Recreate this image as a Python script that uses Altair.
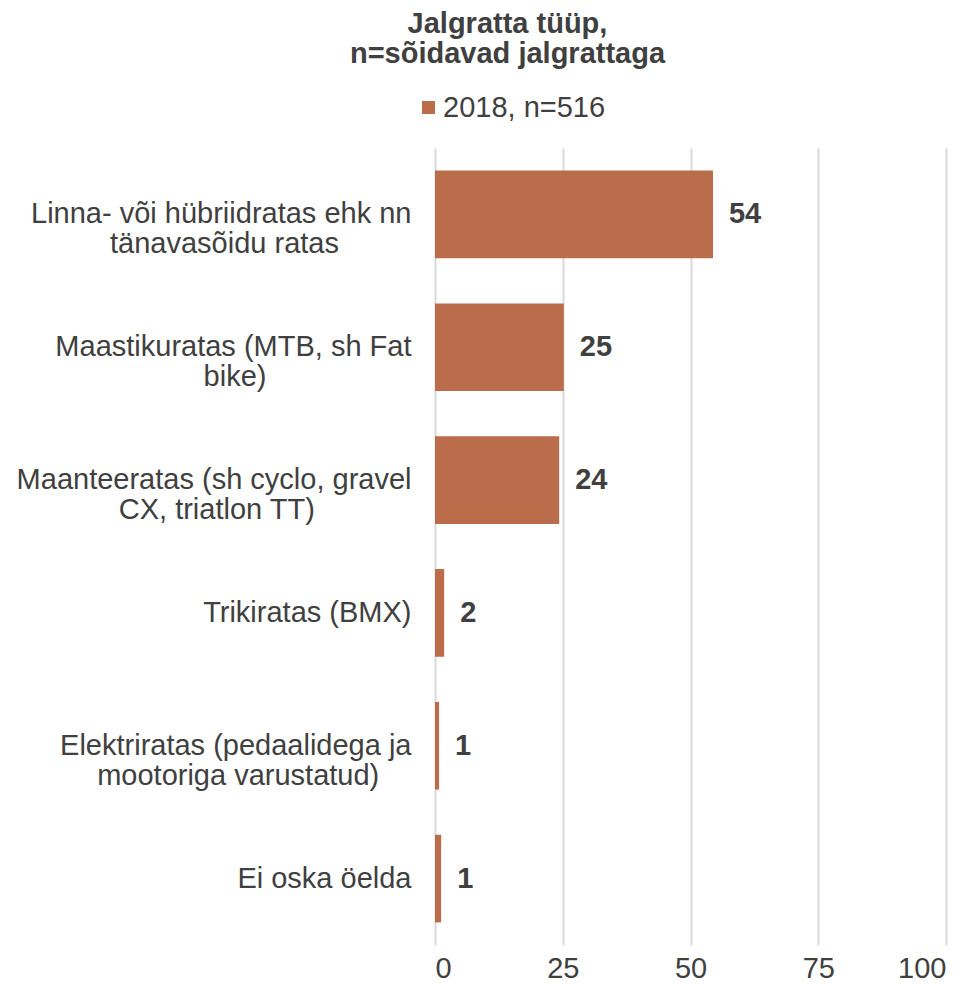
import altair as alt
import pandas as pd

categories = [
    "Linna- või hübriidratas ehk nn|tänavasõidu ratas",
    "Maastikuratas (MTB, sh Fat|bike)",
    "Maanteeratas (sh cyclo, gravel|CX, triatlon TT)",
    "Trikiratas (BMX)",
    "Elektriratas (pedaalidega ja|mootoriga varustatud)",
    "Ei oska öelda",
]
values = [54.4, 25.2, 24.3, 1.8, 0.8, 1.2]
value_labels = ["54", "25", "24", "2", "1", "1"]
series_name = "2018, n=516"
x_ticks = [0, 25, 50, 75, 100]
title_lines = ["Jalgratta tüüp,", "n=sõidavad jalgrattaga"]

# approximate Arial / Liberation Sans advance widths (per 1000 em)
W = {" ": 278, "a": 556, "b": 556, "c": 500, "d": 556, "e": 556, "f": 278, "g": 556,
     "h": 556, "i": 222, "j": 222, "k": 500, "l": 222, "m": 833, "n": 556, "o": 556,
     "p": 556, "r": 333, "s": 500, "t": 278, "u": 556, "v": 500, "w": 722, "x": 500,
     "y": 500, "z": 500, "ä": 556, "õ": 556, "ö": 556, "ü": 556, "C": 722, "X": 667,
     "T": 611, "B": 667, "M": 833, "F": 611, "L": 556, "E": 667, "S": 667, "(": 333,
     ")": 333, ",": 278, "-": 333}
NBSP = "\u00a0"
WJ = "\u2060"


def text_w(s):
    return sum(W.get(ch, 556) for ch in s)


def centre_lines(label):
    parts = label.split("|")
    if len(parts) == 1:
        return label
    first, second = parts
    pad = max(0, round((text_w(first) - text_w(second)) / 2 / 278))
    return first + "|" + second + NBSP * pad + WJ


display = [centre_lines(c) for c in categories]

df = pd.DataFrame({
    "cat": display,
    "value": values,
    "label": value_labels,
    "series": [series_name] * len(values),
})

FONT = "Liberation Sans"
TXT = "#404040"
BAR = "#BB6C4B"
FS = 29

y_enc = alt.Y(
    "cat:N",
    sort=display,
    title=None,
    scale=alt.Scale(paddingInner=0.34, paddingOuter=0.17),
    axis=alt.Axis(
        domain=False,
        ticks=False,
        labelFontSize=FS,
        labelColor=TXT,
        labelPadding=24,
        labelLimit=700,
        labelLineHeight=30,
        labelExpr="split(datum.label, '|')",
    ),
)

x_enc = alt.X(
    "value:Q",
    title=None,
    scale=alt.Scale(domain=[0, 100], nice=False),
    axis=alt.Axis(
        values=x_ticks,
        domain=False,
        ticks=False,
        grid=True,
        gridColor="#d9d9d9",
        gridWidth=2,
        labelFontSize=FS,
        labelColor=TXT,
        labelPadding=9,
    ),
)

bars = alt.Chart(df).mark_bar(color=BAR).encode(
    y=y_enc,
    x=x_enc,
    color=alt.Color(
        "series:N",
        scale=alt.Scale(range=[BAR]),
        legend=alt.Legend(
            orient="none",
            legendX=-21,
            legendY=-55,
            title=None,
            symbolType="square",
            symbolSize=169,
            symbolStrokeWidth=0,
            labelFontSize=FS,
            labelColor=TXT,
            labelOffset=0,
            labelLimit=600,
        ),
    ),
)

text = alt.Chart(df).mark_text(
    align="left", baseline="middle", dx=16, fontSize=FS, fontWeight="bold", color=TXT
).encode(y=alt.Y("cat:N", sort=display), x=alt.X("value:Q"), text="label:N")

chart = (
    alt.layer(bars, text)
    .properties(
        width=511,
        height=797,
        padding={"left": 8, "top": 2, "right": 5, "bottom": 0},
        title=alt.Title(
            title_lines,
            fontSize=FS,
            fontWeight="bold",
            color=TXT,
            anchor="middle",
            frame="group",
            lineHeight=30,
            offset=24,
            dx=-183,
        ),
    )
    .configure(font=FONT)
    .configure_view(stroke=None)
)

chart.save("out.html", embed_options={"renderer": "svg", "actions": False})
